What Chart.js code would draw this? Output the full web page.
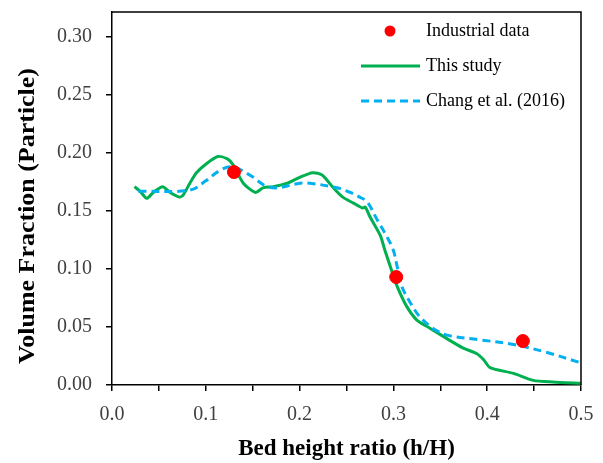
<!DOCTYPE html>
<html>
<head>
<meta charset="utf-8">
<script src="https://cdn.jsdelivr.net/npm/chart.js@4"></script>
<style>
  html, body { margin: 0; padding: 0; background: #fff; }
  #wrap { width: 603px; height: 463px; }
</style>
</head>
<body>
<div id="wrap"><canvas id="bedChart" width="603" height="463"></canvas></div>
<script>
// bed height ratio vs particle volume fraction
const plantX = [0.130, 0.303, 0.438];
const plantY = [0.1836, 0.0931, 0.0379];

const studyX = [0.024, 0.030, 0.037, 0.044, 0.054, 0.062, 0.072, 0.076, 0.083, 0.090,
    0.101, 0.113, 0.123, 0.129, 0.140, 0.153, 0.161, 0.172, 0.187, 0.200,
    0.214, 0.224, 0.236, 0.246, 0.257, 0.267, 0.270, 0.275, 0.286, 0.291,
    0.298, 0.304, 0.314, 0.325, 0.339, 0.357, 0.374, 0.389, 0.396, 0.403,
    0.428, 0.449, 0.470, 0.500];
const studyY = [0.171, 0.167, 0.161, 0.166, 0.171, 0.166, 0.162, 0.164, 0.174, 0.183,
    0.191, 0.197, 0.195, 0.190, 0.174, 0.166, 0.170, 0.171, 0.174, 0.179,
    0.183, 0.181, 0.170, 0.162, 0.157, 0.1526, 0.1535, 0.145, 0.129, 0.116,
    0.099, 0.085, 0.068, 0.056, 0.049, 0.040, 0.032, 0.027, 0.022, 0.015,
    0.010, 0.004, 0.0026, 0.0015];

const changX = [0.028, 0.083, 0.100, 0.115, 0.128, 0.147, 0.163, 0.176, 0.200, 0.211,
    0.240, 0.254, 0.264, 0.272, 0.283, 0.293, 0.300, 0.304, 0.309, 0.318,
    0.328, 0.342, 0.357, 0.392, 0.428, 0.464, 0.500];
const changY = [0.167, 0.168, 0.176, 0.185, 0.188, 0.181, 0.172, 0.170, 0.174, 0.174,
    0.170, 0.166, 0.162, 0.158, 0.142, 0.128, 0.116, 0.102, 0.085, 0.071,
    0.059, 0.049, 0.043, 0.039, 0.035, 0.028, 0.019];

const xTicks = [0, 0.05, 0.1, 0.15, 0.2, 0.25, 0.3, 0.35, 0.4, 0.45, 0.5];
const yTicks = [0, 0.05, 0.10, 0.15, 0.20, 0.25, 0.30];

const toPoints = (xs, ys) => xs.map((x, i) => ({x, y: ys[i]}));

const serif = '"Liberation Serif", "Times New Roman", serif';

// frame on top/right, the y title and the in-plot legend
const framePlugin = {
    id: 'frame',
    afterDraw(chart) {
        const {ctx, chartArea: a} = chart;
        ctx.save();
        ctx.strokeStyle = '#000';
        ctx.lineWidth = 1.5;
        ctx.beginPath();
        ctx.moveTo(a.left, a.top);
        ctx.lineTo(a.right, a.top);
        ctx.lineTo(a.right, a.bottom);
        ctx.stroke();

        // y title, a bit wider than the plain font
        ctx.save();
        ctx.translate(28, 216);
        ctx.rotate(-Math.PI / 2);
        ctx.font = 'bold 23px ' + serif;
        const w = ctx.measureText('Volume Fraction (Particle)').width;
        ctx.scale(296 / w, 1);
        ctx.fillStyle = '#000';
        ctx.textAlign = 'center';
        ctx.textBaseline = 'middle';
        ctx.fillText('Volume Fraction (Particle)', 0, 0);
        ctx.restore();

        const rows = [31, 66, 101];
        ctx.font = '18px ' + serif;
        ctx.textBaseline = 'middle';
        chart.data.datasets.forEach((ds, i) => {
            const y = rows[i];
            if (ds.showLine) {
                ctx.strokeStyle = ds.borderColor;
                ctx.lineWidth = 3;
                ctx.setLineDash(ds.borderDash || []);
                ctx.beginPath();
                ctx.moveTo(361, y);
                ctx.lineTo(420, y);
                ctx.stroke();
                ctx.setLineDash([]);
            } else {
                ctx.fillStyle = ds.backgroundColor;
                ctx.beginPath();
                ctx.arc(390, y, 5.5, 0, Math.PI * 2);
                ctx.fill();
            }
            ctx.fillStyle = '#000';
            ctx.fillText(ds.label, 426, y);
        });
        ctx.restore();
    }
};

new Chart(document.getElementById('bedChart'), {
    type: 'scatter',
    data: {
        datasets: [
            {
                label: 'Industrial data',
                data: toPoints(plantX, plantY),
                backgroundColor: '#ff0000',
                borderColor: '#ff0000',
                pointRadius: 6.5,
                showLine: false,
                order: 0
            },
            {
                label: 'This study',
                data: toPoints(studyX, studyY),
                borderColor: '#00b050',
                borderWidth: 3,
                pointRadius: 0,
                showLine: true,
                tension: 0.25,
                order: 2
            },
            {
                label: 'Chang et al. (2016)',
                data: toPoints(changX, changY),
                borderColor: '#00b0f0',
                borderWidth: 3,
                borderDash: [8, 5],
                pointRadius: 0,
                showLine: true,
                tension: 0.35,
                order: 1
            }
        ]
    },
    options: {
        responsive: false,
        animation: false,
        layout: {padding: {left: 0, right: 22, top: 12, bottom: 0}},
        plugins: {
            legend: {display: false},
            tooltip: {enabled: false}
        },
        scales: {
            x: {
                type: 'linear',
                min: 0,
                max: 0.5,
                afterFit: s => {
                    s.height = 78;
                    s.paddingLeft = 0;
                    s.paddingRight = 0;
                },
                afterBuildTicks: s => {
                    s.ticks = xTicks.map(v => ({value: v}));
                },
                border: {color: '#000', width: 1.5},
                grid: {drawOnChartArea: false, drawTicks: true, tickLength: 6, color: '#000', lineWidth: 1.5},
                ticks: {
                    color: '#404040',
                    padding: 12,
                    maxRotation: 0,
                    font: {family: serif, size: 20},
                    callback: v => (Math.round(v * 100) % 10 === 0 ? v.toFixed(1) : '')
                },
                title: {
                    display: true,
                    text: 'Bed height ratio (h/H)',
                    color: '#000',
                    font: {family: serif, size: 23, weight: 'bold'},
                    padding: {top: 9, bottom: 0}
                }
            },
            y: {
                type: 'linear',
                min: 0,
                max: 0.3216,
                afterFit: s => {
                    s.width = 112;
                    s.paddingTop = 0;
                    s.paddingBottom = 0;
                },
                afterBuildTicks: s => {
                    s.ticks = yTicks.map(v => ({value: v}));
                },
                border: {color: '#000', width: 1.5},
                grid: {drawOnChartArea: false, drawTicks: true, tickLength: 6, color: '#000', lineWidth: 1.5},
                ticks: {
                    color: '#404040',
                    padding: 14,
                    font: {family: serif, size: 20},
                    callback: v => v.toFixed(2)
                }
            }
        }
    },
    plugins: [framePlugin]
});
</script>
</body>
</html>
